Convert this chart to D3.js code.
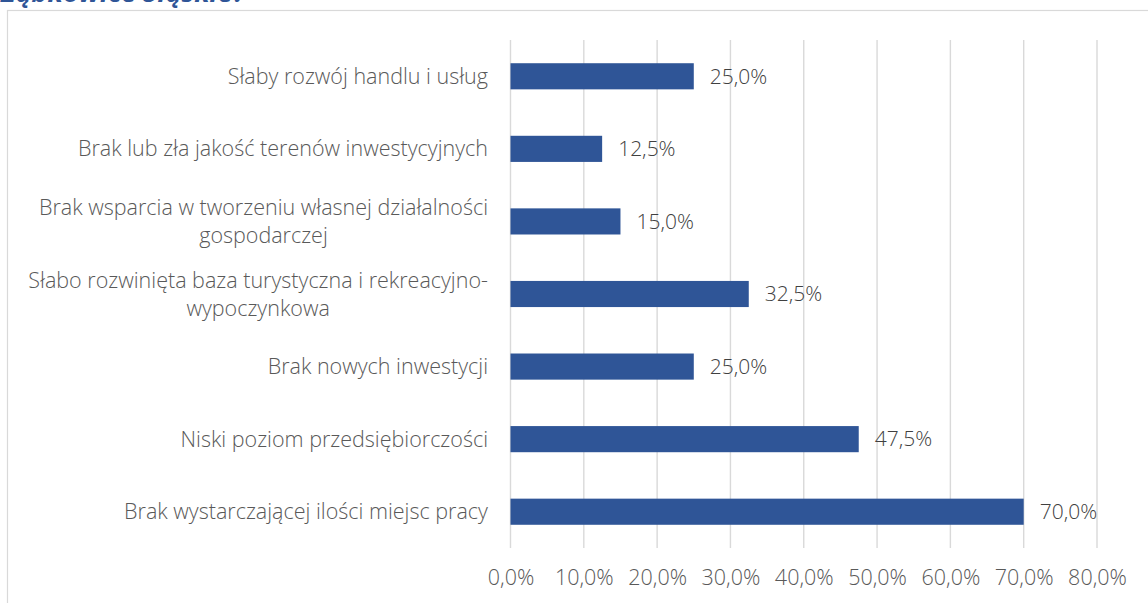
<!DOCTYPE html>
<html>
<head>
<meta charset="utf-8">
<script src="https://cdn.jsdelivr.net/npm/d3@7"></script>
<style>
  body { margin: 0; background: #fff; overflow: hidden; }
  svg { display: block; font-family: "Open Sans", sans-serif; font-weight: 300; }
</style>
</head>
<body>
<script>
// dane z wykresu (od góry do dołu)
var kategorie = [
  "Słaby rozwój handlu i usług",
  "Brak lub zła jakość terenów inwestycyjnych",
  "Brak wsparcia w tworzeniu własnej działalności\ngospodarczej",
  "Słabo rozwinięta baza turystyczna i rekreacyjno-\nwypoczynkowa",
  "Brak nowych inwestycji",
  "Niski poziom przedsiębiorczości",
  "Brak wystarczającej ilości miejsc pracy"
];
var wartosci = [25.0, 12.5, 15.0, 32.5, 25.0, 47.5, 70.0];
var ticki = [0, 10, 20, 30, 40, 50, 60, 70, 80];
var tytul = "Ząbkowice Śląskie?";

var W = 1148, H = 603;
var fmt = function(v) { return v.toFixed(1).replace(".", ",") + "%"; };

var svg = d3.select("body").append("svg")
  .attr("width", W)
  .attr("height", H);

// tytuł (ucięty u góry)
svg.append("text")
  .attr("x", 1)
  .attr("y", 2)
  .attr("fill", "#2F5597")
  .style("font-size", "27px")
  .style("font-weight", "bold")
  .style("font-style", "italic")
  .text(tytul);

// ramka wykresu
svg.append("rect")
  .attr("x", 7.5)
  .attr("y", 10.5)
  .attr("width", W + 20)
  .attr("height", H + 20)
  .attr("fill", "none")
  .attr("stroke", "#d9d9d9")
  .attr("stroke-width", 1.2);

var x = d3.scaleLinear().domain([0, 80]).range([510.5, 1097]);
var y = d3.scaleBand().domain(kategorie).range([40, 548])
  .paddingInner(0.64).paddingOuter(0.32);

// linie siatki
svg.append("g").selectAll("line")
  .data(ticki)
  .enter().append("line")
  .attr("x1", function(d) { return x(d); })
  .attr("x2", function(d) { return x(d); })
  .attr("y1", 40)
  .attr("y2", 548)
  .attr("stroke", "#d9d9d9")
  .attr("stroke-width", 1.4);

// etykiety osi X
var osX = svg.append("g")
  .attr("transform", "translate(0,548)")
  .call(d3.axisBottom(x).tickValues(ticki).tickSize(0).tickPadding(22)
    .tickFormat(fmt));
osX.select(".domain").remove();
osX.selectAll("text")
  .attr("fill", "#595959")
  .style("font-size", "21.5px")
  .style("font-family", "'Open Sans', sans-serif")
  .style("font-weight", 300);

// słupki
svg.append("g").selectAll("rect")
  .data(wartosci)
  .enter().append("rect")
  .attr("x", x(0))
  .attr("y", function(d, i) { return y(kategorie[i]); })
  .attr("width", function(d) { return x(d) - x(0); })
  .attr("height", y.bandwidth())
  .attr("fill", "#2F5597");

// etykiety wartości
svg.append("g").selectAll("text")
  .data(wartosci)
  .enter().append("text")
  .attr("x", function(d) { return x(d) + 16; })
  .attr("y", function(d, i) { return y(kategorie[i]) + y.bandwidth() / 2; })
  .attr("dy", "0.35em")
  .attr("fill", "#404040")
  .style("font-size", "21px")
  .text(fmt);

// etykiety kategorii
var lh = 28;
svg.append("g").selectAll("text")
  .data(kategorie)
  .enter().append("text")
  .attr("text-anchor", "middle")
  .attr("fill", "#595959")
  .style("font-size", "21.5px")
  .each(function(d) {
    var linie = d.split("\n");
    var t = d3.select(this);
    var cy = y(d) + y.bandwidth() / 2 - (linie.length - 1) * lh / 2;
    linie.forEach(function(l, j) {
      t.append("tspan")
        .attr("x", 0)
        .attr("y", cy + j * lh)
        .attr("dy", "0.35em")
        .text(l);
    });
    // wiersze wyśrodkowane względem najdłuższego, prawa krawędź przy 488
    var bb = this.getBBox();
    t.selectAll("tspan").attr("x", 488 - bb.width / 2);
  });
</script>
</body>
</html>
